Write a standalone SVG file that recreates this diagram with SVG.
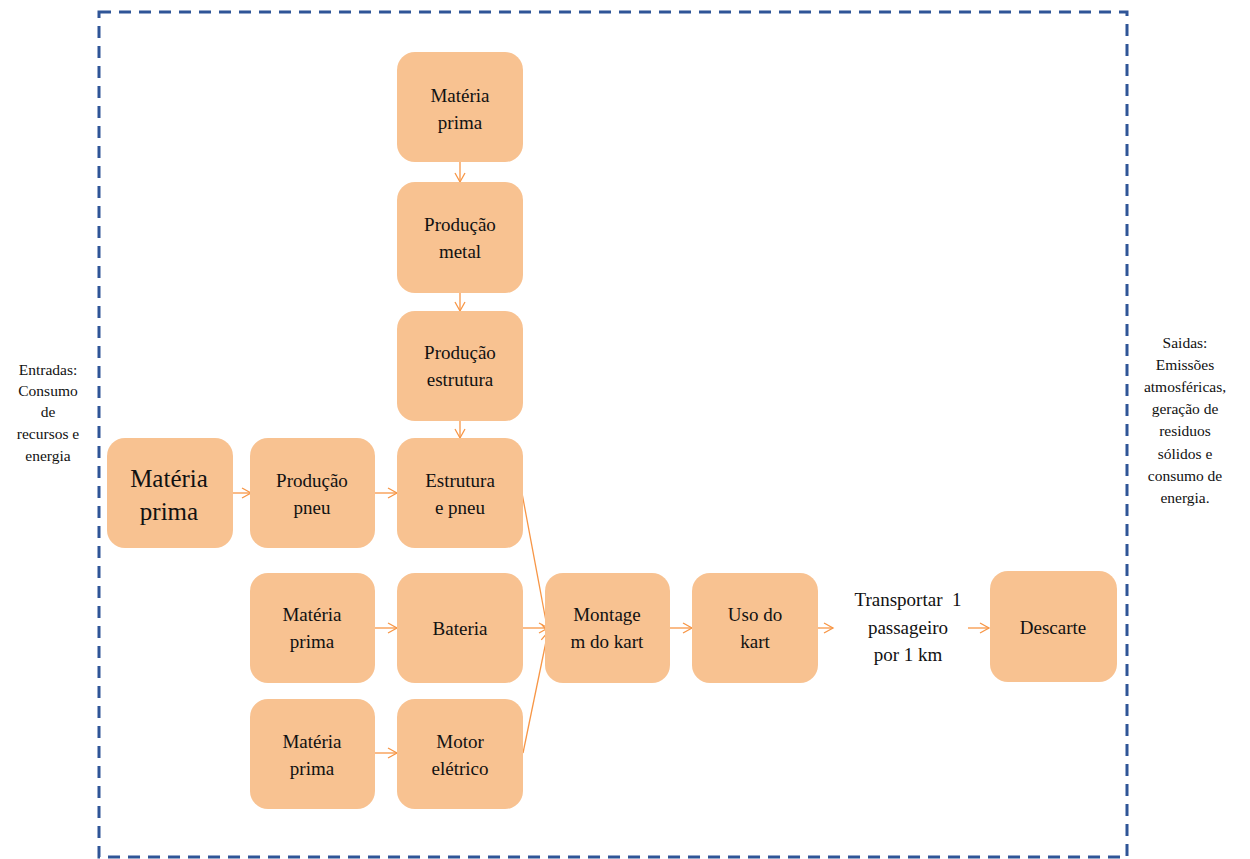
<svg xmlns="http://www.w3.org/2000/svg" width="1250" height="859" viewBox="0 0 1250 859">
<defs>
<style>
.n{fill:#F8C291;}
.t{font-size:19px;fill:#111;text-anchor:middle;}
.big{font-size:25px;}
.s{font-size:15.5px;fill:#111;text-anchor:middle;}
.c{stroke:#F79646;stroke-width:1.3;fill:none;}
</style>
<marker id="ah" markerWidth="12" markerHeight="12" refX="10" refY="6" orient="auto" markerUnits="userSpaceOnUse">
<path d="M1,1 L10,6 L1,11" fill="none" stroke="#F79646" stroke-width="1.3"/>
</marker>
</defs>
<rect width="1250" height="859" fill="#fff"/>
<rect x="99" y="12" width="1028" height="845" fill="none" stroke="#2F5597" stroke-width="3" stroke-dasharray="12,8"/>
<g id="connectors">
<line class="c" x1="460" y1="162" x2="460" y2="182" marker-end="url(#ah)"/>
<line class="c" x1="460" y1="293" x2="460" y2="311" marker-end="url(#ah)"/>
<line class="c" x1="460" y1="421" x2="460" y2="438" marker-end="url(#ah)"/>
<line class="c" x1="233" y1="493" x2="251" y2="493" marker-end="url(#ah)"/>
<line class="c" x1="375" y1="493" x2="397" y2="493" marker-end="url(#ah)"/>
<line class="c" x1="375" y1="628" x2="397" y2="628" marker-end="url(#ah)"/>
<line class="c" x1="375" y1="753" x2="397" y2="753" marker-end="url(#ah)"/>
<line class="c" x1="522" y1="493" x2="548" y2="632" marker-end="url(#ah)"/>
<line class="c" x1="523" y1="628" x2="548" y2="628" marker-end="url(#ah)"/>
<line class="c" x1="523" y1="753" x2="548" y2="632" marker-end="url(#ah)"/>
<line class="c" x1="670" y1="628" x2="692" y2="628" marker-end="url(#ah)"/>
<line class="c" x1="818" y1="628" x2="833" y2="628" marker-end="url(#ah)"/>
<line class="c" x1="968" y1="628" x2="989" y2="628" marker-end="url(#ah)"/>
</g>
<g font-family="Liberation Serif, Times New Roman, serif">
<g id="mp-top"><rect class="n" x="397" y="52" width="126" height="110" rx="18"/><text class="t" x="460" y="102">Matéria</text><text class="t" x="460" y="129">prima</text></g>
<g id="prod-metal"><rect class="n" x="397" y="182" width="126" height="111" rx="18"/><text class="t" x="460" y="231">Produção</text><text class="t" x="460" y="258">metal</text></g>
<g id="prod-estrutura"><rect class="n" x="397" y="311" width="126" height="110" rx="18"/><text class="t" x="460" y="359">Produção</text><text class="t" x="460" y="386">estrutura</text></g>
<g id="estrutura-pneu"><rect class="n" x="397" y="438" width="126" height="110" rx="18"/><text class="t" x="460" y="487">Estrutura</text><text class="t" x="460" y="514">e pneu</text></g>
<g id="mp-big"><rect class="n" x="107" y="438" width="126" height="110" rx="18"/><text class="t big" x="169" y="487">Matéria</text><text class="t big" x="169" y="520">prima</text></g>
<g id="prod-pneu"><rect class="n" x="250" y="438" width="125" height="110" rx="18"/><text class="t" x="312" y="487">Produção</text><text class="t" x="312" y="514">pneu</text></g>
<g id="mp-bateria"><rect class="n" x="250" y="573" width="125" height="110" rx="18"/><text class="t" x="312" y="621">Matéria</text><text class="t" x="312" y="648">prima</text></g>
<g id="bateria"><rect class="n" x="397" y="573" width="126" height="110" rx="18"/><text class="t" x="460" y="635">Bateria</text></g>
<g id="mp-motor"><rect class="n" x="250" y="699" width="125" height="110" rx="18"/><text class="t" x="312" y="748">Matéria</text><text class="t" x="312" y="775">prima</text></g>
<g id="motor"><rect class="n" x="397" y="699" width="126" height="110" rx="18"/><text class="t" x="460" y="748">Motor</text><text class="t" x="460" y="775">elétrico</text></g>
<g id="montagem"><rect class="n" x="545" y="573" width="125" height="110" rx="18"/><text class="t" x="607" y="621">Montage</text><text class="t" x="607" y="648">m do kart</text></g>
<g id="uso"><rect class="n" x="692" y="573" width="126" height="110" rx="18"/><text class="t" x="755" y="621">Uso do</text><text class="t" x="755" y="648">kart</text></g>
<g id="transportar"><text class="t" x="908" y="606" xml:space="preserve">Transportar  1</text><text class="t" x="908" y="634">passageiro</text><text class="t" x="908" y="661">por 1 km</text></g>
<g id="descarte"><rect class="n" x="990" y="571" width="127" height="111" rx="18"/><text class="t" x="1053" y="634">Descarte</text></g>
<g id="entradas"><text class="s" x="48" y="375">Entradas:</text><text class="s" x="48" y="396">Consumo</text><text class="s" x="48" y="417">de</text><text class="s" x="48" y="439">recursos e</text><text class="s" x="48" y="461">energia</text></g>
<g id="saidas"><text class="s" x="1185" y="348">Saidas:</text><text class="s" x="1185" y="370">Emissões</text><text class="s" x="1185" y="392">atmosféricas,</text><text class="s" x="1185" y="414">geração de</text><text class="s" x="1185" y="436">residuos</text><text class="s" x="1185" y="459">sólidos e</text><text class="s" x="1185" y="481">consumo de</text><text class="s" x="1185" y="503">energia.</text></g>
</g>
</svg>
